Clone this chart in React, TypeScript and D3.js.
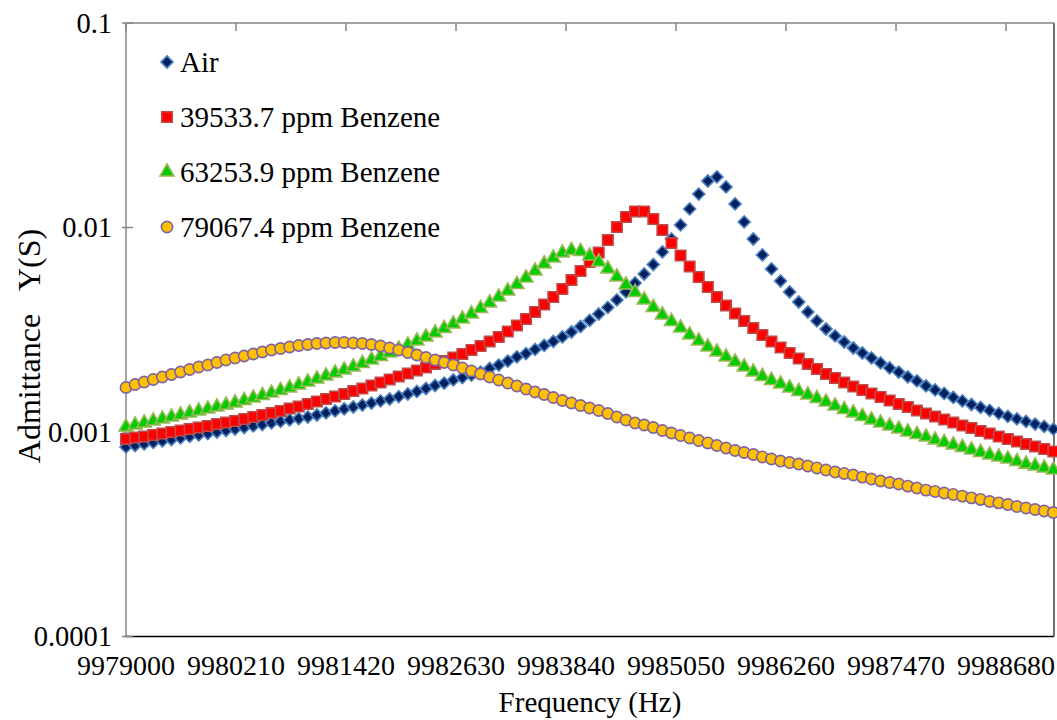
import React from "react";
import * as d3 from "d3";

const freqStart = 9979000;
const freqStep = 100;
const xTickValues = [9979000, 9980210, 9981420, 9982630, 9983840, 9985050, 9986260, 9987470, 9988680];
const yTickValues = [0.0001, 0.001, 0.01, 0.1];
const yTickLabels = ["0.0001", "0.001", "0.01", "0.1"];

const air = [
  0.000845, 0.000859, 0.000874, 0.000889, 0.000904, 0.000919, 0.000935, 0.000951, 0.000967, 0.000983,
  0.001000, 0.001017, 0.001034, 0.001052, 0.001070, 0.001088, 0.001107, 0.001126, 0.001145, 0.001164,
  0.001184, 0.001211, 0.001239, 0.001267, 0.001296, 0.001325, 0.001355, 0.001386, 0.001418, 0.001450,
  0.001491, 0.001534, 0.001578, 0.001632, 0.001688, 0.001736, 0.001796, 0.001847, 0.001900, 0.001965,
  0.002044, 0.002126, 0.002224, 0.002327, 0.002420, 0.002532, 0.002649, 0.002771, 0.002915, 0.003083,
  0.003280, 0.003510, 0.003776, 0.004063, 0.004421, 0.004838, 0.005354, 0.005924, 0.006593, 0.007590,
  0.008786, 0.01029, 0.01232, 0.01458, 0.01688, 0.01766, 0.01578, 0.01303, 0.01064, 0.008786,
  0.007338, 0.006268, 0.005475, 0.004838, 0.004322, 0.003862, 0.003490, 0.003189, 0.002948, 0.002755,
  0.002575, 0.002434, 0.002301, 0.002175, 0.002056, 0.001965, 0.001858, 0.001776, 0.001679, 0.001605,
  0.001543, 0.001475, 0.001418, 0.001363, 0.001318, 0.001274, 0.001232, 0.001191, 0.001158, 0.001126,
  0.001094, 0.001064, 0.001034,
];

const benzene39533 = [
  0.000924, 0.000940, 0.000951, 0.000967, 0.000983, 0.001000, 0.001017, 0.001034, 0.001052, 0.001070,
  0.001094, 0.001113, 0.001132, 0.001158, 0.001184, 0.001211, 0.001239, 0.001267, 0.001303, 0.001333,
  0.001371, 0.001410, 0.001450, 0.001491, 0.001534, 0.001587, 0.001632, 0.001688, 0.001746, 0.001806,
  0.001868, 0.001932, 0.001999, 0.002067, 0.002150, 0.002224, 0.002314, 0.002407, 0.002518, 0.002634,
  0.002771, 0.002915, 0.003101, 0.003317, 0.003569, 0.003862, 0.004202, 0.004573, 0.005004, 0.005537,
  0.006128, 0.006781, 0.007547, 0.008688, 0.01006, 0.01126, 0.01198, 0.01198, 0.01101, 0.009723,
  0.008399, 0.007297, 0.006447, 0.005728, 0.005118, 0.004573, 0.004155, 0.003797, 0.003490, 0.003225,
  0.002981, 0.002771, 0.002590, 0.002434, 0.002288, 0.002150, 0.002033, 0.001921, 0.001837, 0.001746,
  0.001669, 0.001605, 0.001543, 0.001483, 0.001426, 0.001371, 0.001325, 0.001274, 0.001232, 0.001191,
  0.001151, 0.001113, 0.001076, 0.001046, 0.001011, 0.000983, 0.000951, 0.000924, 0.000899, 0.000874,
  0.000849, 0.000826, 0.000803,
];

const benzene63253 = [
  0.001058, 0.001082, 0.001107, 0.001132, 0.001158, 0.001184, 0.001211, 0.001239, 0.001267, 0.001296,
  0.001325, 0.001355, 0.001386, 0.001426, 0.001466, 0.001508, 0.001551, 0.001596, 0.001641, 0.001698,
  0.001756, 0.001816, 0.001879, 0.001943, 0.002010, 0.002079, 0.002163, 0.002250, 0.002340, 0.002434,
  0.002546, 0.002663, 0.002786, 0.002915, 0.003049, 0.003207, 0.003374, 0.003569, 0.003776, 0.004017,
  0.004274, 0.004573, 0.004892, 0.005264, 0.005664, 0.006128, 0.006631, 0.007094, 0.007505, 0.007719,
  0.007633, 0.007256, 0.006781, 0.006268, 0.005728, 0.005234, 0.004810, 0.004421, 0.004063, 0.003734,
  0.003470, 0.003225, 0.002981, 0.002786, 0.002604, 0.002462, 0.002327, 0.002199, 0.002079, 0.001965,
  0.001868, 0.001786, 0.001717, 0.001641, 0.001578, 0.001517, 0.001458, 0.001402, 0.001340, 0.001288,
  0.001239, 0.001191, 0.001145, 0.001107, 0.001070, 0.001034, 0.001000, 0.000972, 0.000945, 0.000914,
  0.000889, 0.000864, 0.000840, 0.000817, 0.000794, 0.000772, 0.000755, 0.000738, 0.000717, 0.000697,
  0.000682, 0.000667, 0.000652,
];

const benzene79067 = [
  0.001651, 0.001707, 0.001756, 0.001806, 0.001858, 0.001911, 0.001965, 0.002021, 0.002079, 0.002126,
  0.002187, 0.002250, 0.002301, 0.002353, 0.002407, 0.002462, 0.002518, 0.002561, 0.002604, 0.002649,
  0.002679, 0.002709, 0.002724, 0.002740, 0.002740, 0.002724, 0.002709, 0.002679, 0.002634, 0.002575,
  0.002518, 0.002448, 0.002380, 0.002314, 0.002250, 0.002187, 0.002126, 0.002056, 0.001987, 0.001921,
  0.001858, 0.001796, 0.001736, 0.001679, 0.001623, 0.001569, 0.001525, 0.001475, 0.001426, 0.001386,
  0.001348, 0.001310, 0.001274, 0.001232, 0.001184, 0.001145, 0.001107, 0.001082, 0.001052, 0.001017,
  0.000989, 0.000961, 0.000935, 0.000909, 0.000884, 0.000859, 0.000835, 0.000812, 0.000794, 0.000776,
  0.000755, 0.000738, 0.000721, 0.000709, 0.000697, 0.000682, 0.000667, 0.000652, 0.000637, 0.000627,
  0.000616, 0.000602, 0.000589, 0.000576, 0.000566, 0.000557, 0.000544, 0.000532, 0.000520, 0.000512,
  0.000503, 0.000495, 0.000486, 0.000476, 0.000468, 0.000457, 0.000450, 0.000442, 0.000432, 0.000425,
  0.000418, 0.000411, 0.000404,
];

const seriesNames = ["Air", "39533.7 ppm Benzene", "63253.9 ppm Benzene", "79067.4 ppm Benzene"];
const seriesValues = [air, benzene39533, benzene63253, benzene79067];

const styles = [
  { type: d3.symbolSquare, size: 72, rotate: 45, fill: "#002060", stroke: "#4A7EBB" },
  { type: d3.symbolSquare, size: 110, rotate: 0, fill: "#FF0000", stroke: "#BE4B48" },
  { type: d3.symbolTriangle, size: 84, rotate: 0, fill: "#00CC00", stroke: "#98B954" },
  { type: d3.symbolCircle, size: 100, rotate: 0, fill: "#FFC000", stroke: "#7F63A1" },
];

const W = 1057;
const H = 720;
const left = 126;
const right = 1054;
const top = 23;
const bottom = 636.5;
const font = "'Liberation Serif', 'Times New Roman', serif";

export default function App() {
  const lastFreq = freqStart + freqStep * (air.length - 1);
  const x = d3.scaleLinear().domain([freqStart, lastFreq]).range([left, right - 0.7]);
  const y = d3.scaleLog().domain([0.0001, 0.1]).range([bottom, top]);

  const symbols = styles.map((s) => d3.symbol().type(s.type).size(s.size)() as string);

  return (
    <svg
      width={W}
      height={H}
      style={{ position: "absolute", left: 0, top: 0, background: "#fff" }}
      fontFamily={font}
    >
      <rect x={0} y={0} width={W} height={H} fill="#fff" />
      {/* plot frame */}
      <line x1={left} x2={right} y1={bottom} y2={bottom} stroke="#000" strokeWidth={1.5} />
      <line x1={right} x2={right} y1={top} y2={bottom} stroke="#404040" strokeWidth={1.5} />
      <line x1={left} x2={right} y1={top} y2={top} stroke="#868686" strokeWidth={1.5} />
      <line x1={left} x2={left} y1={top} y2={bottom} stroke="#868686" strokeWidth={1.5} />
      {xTickValues.map((t) => (
        <line key={"xt" + t} x1={x(t)} x2={x(t)} y1={top} y2={top + 8} stroke="#868686" strokeWidth={1.5} />
      ))}
      {yTickValues.map((t) => (
        <line key={"yt" + t} x1={left - 4} x2={left + 7} y1={y(t)} y2={y(t)} stroke="#868686" strokeWidth={1.5} />
      ))}
      {/* tick labels */}
      {xTickValues.map((t) => (
        <text key={"xl" + t} x={x(t)} y={674.5} fontSize={28} textAnchor="middle" fill="#000">
          {String(t)}
        </text>
      ))}
      {yTickValues.map((t, i) => (
        <text key={"yl" + t} x={112} y={y(t) + 9.5} fontSize={28.5} textAnchor="end" fill="#000">
          {yTickLabels[i]}
        </text>
      ))}
      <text x={(left + right) / 2} y={711.5} fontSize={29} textAnchor="middle" fill="#000">
        Frequency (Hz)
      </text>
      <text
        transform={`translate(40, 346) rotate(-90)`}
        fontSize={32}
        textAnchor="middle"
        fill="#000"
        style={{ whiteSpace: "pre" }}
        xmlSpace="preserve"
      >
        {"Admittance   Y(S)"}
      </text>
      {/* series */}
      {seriesValues.map((vals, si) => (
        <g key={"s" + si}>
          {vals.map((v, i) => (
            <path
              key={i}
              d={symbols[si]}
              transform={`translate(${x(freqStart + freqStep * i)},${y(v)}) rotate(${styles[si].rotate})`}
              fill={styles[si].fill}
              stroke={styles[si].stroke}
              strokeWidth={1.6}
            />
          ))}
        </g>
      ))}
      {/* legend */}
      {seriesNames.map((name, si) => {
        const ry = 62 + si * 55;
        return (
          <g key={"lg" + si}>
            <path
              d={symbols[si]}
              transform={`translate(167,${ry}) rotate(${styles[si].rotate})`}
              fill={styles[si].fill}
              stroke={styles[si].stroke}
              strokeWidth={1.6}
            />
            <text x={180} y={ry + 10} fontSize={29} fill="#000">
              {name}
            </text>
          </g>
        );
      })}
    </svg>
  );
}
